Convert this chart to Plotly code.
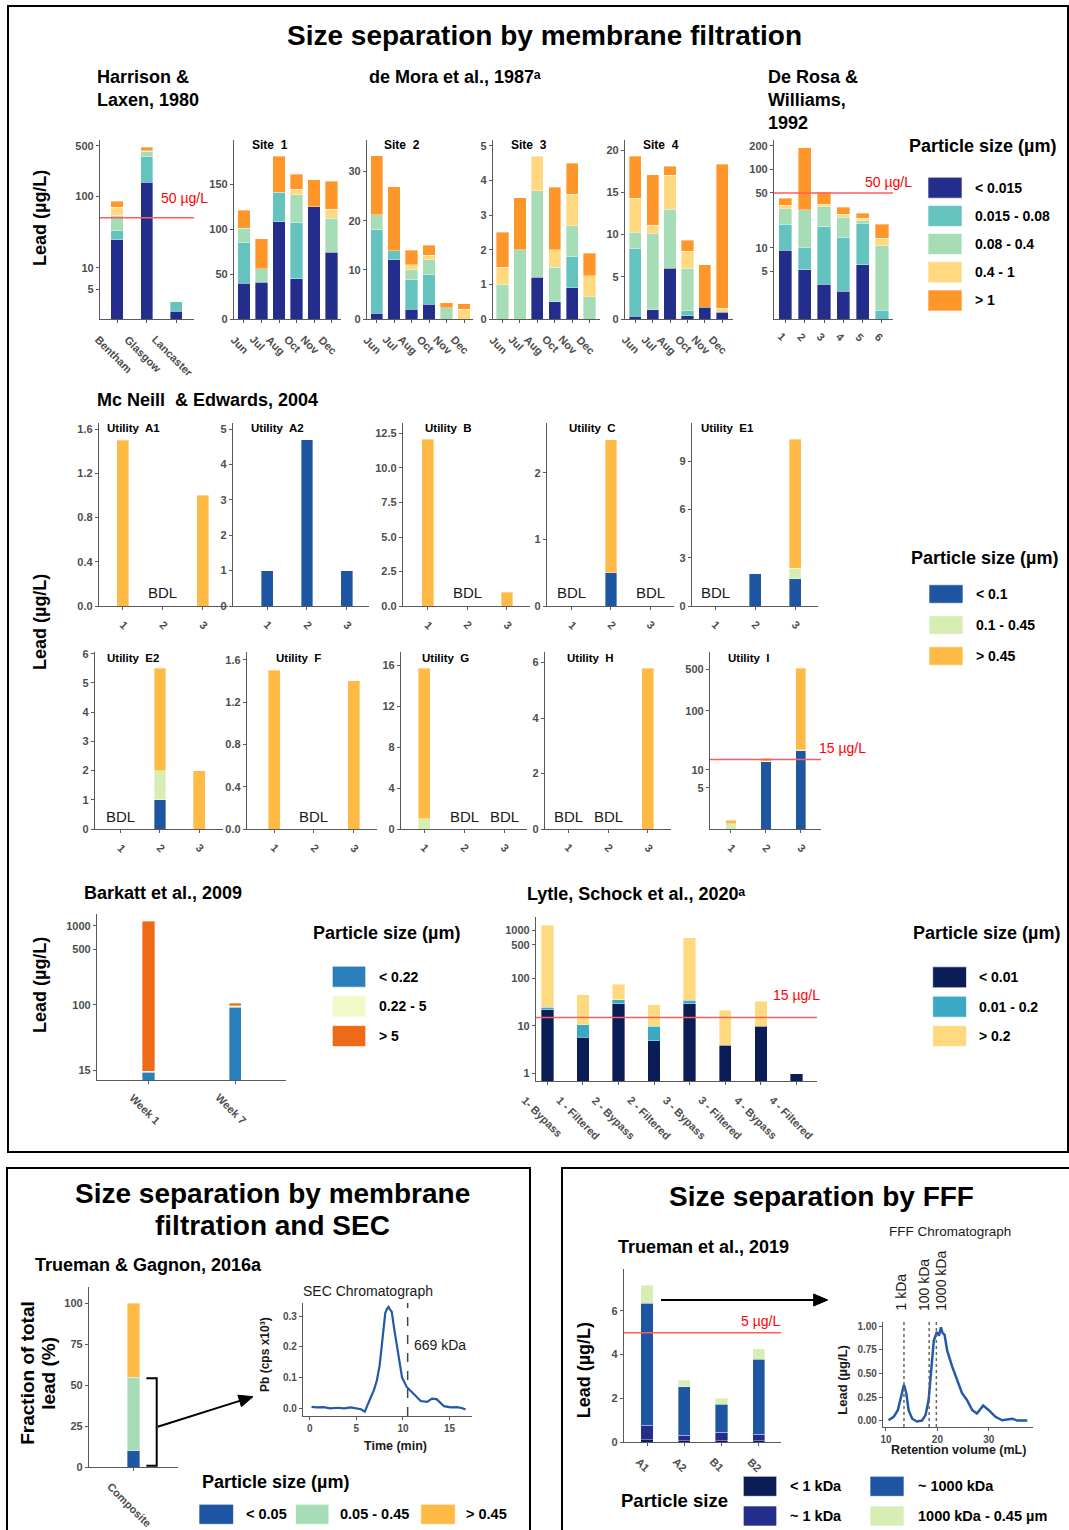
import numpy as np
import plotly.graph_objects as go

# ------------------------------------------------------------------
# Data
# ------------------------------------------------------------------
# Harrison & Laxen, 1980
harrison_sites = ["Bentham", "Glasgow", "Lancaster"]
harrison_lt_0015 = [24.5, 155.0, 2.5]
harrison_0015_008 = [8.2, 200.0, 0.9]
harrison_008_04 = [21.8, 65.0, 0.0]
harrison_04_1 = [15.9, 10.0, 0.0]
harrison_gt_1 = [14.6, 50.0, 0.0]

# de Mora et al., 1987 - four sites, monthly sampling
months = ["Jun", "Jul", "Aug", "Oct", "Nov", "Dec"]
site1_lt_0015 = [40, 41, 108, 45, 125, 74]
site1_0015_008 = [45, 0, 33, 62, 0, 0]
site1_008_04 = [16, 15, 0, 31, 0, 38]
site1_04_1 = [0, 0, 0, 6, 0, 10]
site1_gt_1 = [20, 33, 40, 17, 30, 31]

site2_lt_0015 = [1.2, 12, 2, 3, 0, 0]
site2_0015_008 = [17, 1.9, 6, 6, 0, 0]
site2_008_04 = [3, 0, 2, 3, 2.3, 0]
site2_04_1 = [0, 0, 1, 1, 0, 2]
site2_gt_1 = [12, 13, 3, 2, 1, 1.1]

site3_lt_0015 = [0, 0, 1.2, 0.5, 0.9, 0]
site3_0015_008 = [0, 0, 0, 0, 0.9, 0]
site3_008_04 = [1.0, 2.0, 2.5, 1.0, 0.9, 0.65]
site3_04_1 = [0.5, 0, 1.0, 0.5, 0.9, 0.6]
site3_gt_1 = [1.0, 1.5, 0, 1.8, 0.9, 0.65]

site4_lt_0015 = [0.3, 1.1, 6.0, 0.4, 1.4, 0.8]
site4_0015_008 = [8.0, 0, 0, 0.6, 0, 0]
site4_008_04 = [2.0, 9.0, 7.0, 5.0, 0, 0]
site4_04_1 = [4.0, 1.0, 4.0, 2.0, 0, 0.5]
site4_gt_1 = [5.0, 6.0, 1.1, 1.35, 5.0, 17.0]

# De Rosa & Williams, 1992
derosa_samples = ["1", "2", "3", "4", "5", "6"]
derosa_lt_0015 = [9.3, 5.2, 3.4, 2.8, 6.1, 0]
derosa_0015_008 = [10.7, 4.9, 15.1, 10.6, 14.4, 1.6]
derosa_008_04 = [11.2, 20.2, 14.9, 11.0, 1.6, 9.0]
derosa_04_1 = [3.6, 0, 2.6, 2.5, 1.5, 2.6]
derosa_gt_1 = [8.2, 158.7, 15.3, 6.1, 3.9, 6.7]

# Mc Neill & Edwards, 2004 (one list of 3 samples per utility)
mcneill_utilities = ["A1", "A2", "B", "C", "E1", "E2", "F", "G", "H", "I"]
mcneill_samples = ["1", "2", "3"]
mcneill_lt_01 = [[0, 0, 0], [1.0, 4.7, 1.0], [0, 0, 0], [0, 0.5, 0], [0, 2.0, 1.7],
                 [0, 1.0, 0], [0, 0, 0], [0, 0, 0], [0, 0, 0], [0, 13.8, 21.0]]
mcneill_01_045 = [[0, 0, 0], [0, 0, 0], [0, 0, 0], [0, 0, 0], [0, 0, 0.65],
                  [0, 1.0, 0], [0, 0, 0], [1.0, 0, 0], [0, 0, 0], [1.22, 0.3, 1.0]]
mcneill_gt_045 = [[1.5, 0, 1.0], [0, 0, 0], [12.1, 0, 1.0], [0, 2.0, 0], [0, 0, 8.0],
                  [0, 3.5, 2.0], [1.5, 0, 1.4], [14.7, 0, 0], [0, 0, 5.8], [0.2, 1.6, 508.0]]
mcneill_bdl = [["2"], [], ["2"], ["1", "3"], ["1"], ["1"], ["2"], ["2", "3"], ["1", "2"], []]

# Barkatt et al., 2009
barkatt_weeks = ["Week 1", "Week 7"]
barkatt_lt_022 = [14.0, 94.0]
barkatt_022_5 = [0.5, 3.0]
barkatt_gt_5 = [1118.0, 8.0]

# Lytle, Schock et al., 2020
lytle_samples = ["1- Bypass", "1 - Filtered", "2 - Bypass", "2 - Filtered",
                 "3 - Bypass", "3 - Filtered", "4 - Bypass", "4 - Filtered"]
lytle_lt_001 = [21.6, 5.8, 29.0, 4.9, 29.0, 3.9, 9.7, 1.0]
lytle_001_02 = [3.0, 4.8, 6.0, 4.8, 5.0, 0, 0, 0]
lytle_gt_02 = [1255.0, 34.0, 39.0, 18.0, 670.0, 17.4, 22.8, 0]

# Trueman & Gagnon, 2016a (percent of total lead)
composite_sample = ["Composite"]
composite_lt_005 = [10.0]
composite_005_045 = [45.0]
composite_gt_045 = [45.0]

# SEC chromatogram
sec_time = [0.2, 0.8, 1.5, 2.2, 3.0, 3.7, 4.4, 5.0, 5.5, 5.9, 6.2, 6.5, 6.9, 7.2, 7.5, 7.75,
            8.1, 8.3, 8.45, 8.6, 8.8, 9.05, 9.35, 9.6, 9.9, 10.4, 11.1, 11.9, 12.6, 13.1,
            13.6, 14.0, 14.4, 15.1, 15.8, 16.3, 16.7]
sec_pb = [0.004, 0.002, 0.003, -0.001, 0.001, -0.001, 0.002, 0.0, -0.004, -0.012, 0.01,
          0.036, 0.06, 0.09, 0.14, 0.21, 0.31, 0.325, 0.33, 0.322, 0.314, 0.26, 0.2, 0.15,
          0.10, 0.069, 0.047, 0.023, 0.02, 0.031, 0.029, 0.018, 0.006, 0.002, 0.003, 0.0, -0.005]
sec_marker_time = 10.5
sec_marker_label = "669 kDa"

# Trueman et al., 2019
trueman_sites = ["A1", "A2", "B1", "B2"]
trueman_lt_1kda = [0.1, 0.05, 0.05, 0.05]
trueman_1kda = [0.67, 0.27, 0.39, 0.30]
trueman_1000kda = [5.58, 2.2, 1.28, 3.44]
trueman_1000kda_045 = [0.82, 0.31, 0.28, 0.48]

# FFF fractogram
fff_volume = [10.5, 11.5, 12.3, 13.1, 13.5, 13.95, 14.4, 15.1, 16.0, 17.0, 17.7, 18.3, 18.8,
              19.3, 19.9, 20.3, 20.7, 21.0, 21.4, 21.9, 22.9, 23.8, 24.8, 25.8, 26.8, 27.7,
              28.9, 30.0, 31.3, 32.6, 33.8, 34.6, 35.5, 37.5]
fff_lead = [0.003, 0.04, 0.11, 0.29, 0.38, 0.29, 0.11, 0.02, -0.01, 0.0, 0.06, 0.22, 0.57,
            0.85, 0.94, 0.9, 0.99, 0.93, 0.91, 0.745, 0.57, 0.43, 0.29, 0.215, 0.11, 0.074,
            0.16, 0.11, 0.04, 0.003, 0.01, 0.02, 0.0, 0.0]
fff_standard_volumes = [13.5, 18.4, 19.8]
fff_standard_labels = ["1 kDa", "100 kDa", "1000 kDa"]

# Guideline / action levels (µg/L)
limit_50 = 50
limit_15 = 15
limit_5 = 5

# ------------------------------------------------------------------
# Styling and helpers
# ------------------------------------------------------------------
W, H = 1069, 1530
FONT = "Liberation Sans, Arial, sans-serif"
AXIS_COL = "#5a5a5a"
TICK_COL = "#4d4d4d"
RED = "#ff0000"
RED_LINE = "#ff5c5c"

C_NAVY, C_TEAL, C_LGREEN, C_YELLOW, C_ORANGE = "#232e8c", "#64c3be", "#a6ddb7", "#ffd880", "#fe9629"
MN_BLUE, MN_GREEN, MN_ORANGE = "#1f56a3", "#d6eeb4", "#feba45"
BK_BLUE, BK_PALE, BK_ORANGE = "#2a7fba", "#f2f9c8", "#ef6a16"
LY_NAVY, LY_TEAL, LY_YELLOW = "#0b1d57", "#3ba9c4", "#ffd980"
TR_COLORS = ["#0b1d57", "#232e8c", "#1f56a3", "#d6eeb4"]
TOP_COLORS = [C_NAVY, C_TEAL, C_LGREEN, C_YELLOW, C_ORANGE]
MN_COLORS = [MN_BLUE, MN_GREEN, MN_ORANGE]

fig = go.Figure()
layout = dict(width=W, height=H, margin=dict(l=0, r=0, t=0, b=0), barmode="stack",
              showlegend=False, template="none", plot_bgcolor="white",
              paper_bgcolor="white", font=dict(family=FONT))
shapes, annotations = [], []
axis_no = [0]
x_ranges = {}


def fx(px):
    return px / W


def fy(py):
    return 1 - py / H


def base_axis(tsize=11):
    return dict(showline=True, linecolor=AXIS_COL, linewidth=1.3, ticks="outside",
                ticklen=3, tickwidth=1, tickcolor=AXIS_COL, showgrid=False,
                zeroline=False, automargin=False, fixedrange=True,
                tickfont=dict(family=FONT, size=tsize, color=TICK_COL, weight="bold"))


def new_axes(box, xextra, yextra, tsize=11):
    axis_no[0] += 1
    s = "" if axis_no[0] == 1 else str(axis_no[0])
    l, t, r, b = box
    xa = base_axis(tsize)
    xa.update(domain=[fx(l), fx(r)], anchor="y" + s)
    xa.update(xextra)
    ya = base_axis(tsize)
    ya.update(domain=[fy(b), fy(t)], anchor="x" + s)
    ya.update(yextra)
    layout["xaxis" + s] = xa
    layout["yaxis" + s] = ya
    x_ranges["x" + s] = xextra.get("range")
    return "x" + s, "y" + s


def cat_x(cats, xr):
    return dict(type="category", categoryorder="array", categoryarray=cats,
                range=xr, showticklabels=False)


def lin(yr, tv, fmt="{:g}"):
    return dict(type="linear", range=yr, tickvals=tv, ticktext=[fmt.format(v) for v in tv])


def logax(yr, tv):
    return dict(type="log", range=yr, tickvals=tv, ticktext=[f"{v:g}" for v in tv])


def cat_pos(xa, cats, c):
    """Fraction of the x-axis domain at which category c sits."""
    r0, r1 = x_ranges[xa]
    return (cats.index(c) - r0) / (r1 - r0)


def stack(xa, ya, cats, series, colors, width):
    for vals, col in zip(series, colors):
        fig.add_trace(go.Bar(
            x=cats, y=[v if v > 0 else None for v in vals], width=width,
            marker=dict(color=col, line=dict(color="rgba(255,255,255,0.6)", width=0.6)),
            xaxis=xa, yaxis=ya, hoverinfo="skip"))


def text(x, y, s, size=11, color="black", bold=False, xanchor="left",
         yanchor="middle", angle=0):
    annotations.append(dict(
        x=fx(x), y=fy(y), xref="paper", yref="paper",
        text=f"<b>{s}</b>" if bold else s, showarrow=False, xanchor=xanchor,
        yanchor=yanchor, textangle=angle, borderpad=0,
        font=dict(family=FONT, size=size, color=color)))


def text_lines(x, y0, step, lines, **kw):
    for i, s in enumerate(lines):
        text(x, y0 + i * step, s, **kw)


def cat_labels(xa, cats, axis_y, size=11, gap=13, dx=-4):
    for c in cats:
        annotations.append(dict(
            xref=xa + " domain", x=cat_pos(xa, cats, c), yref="paper", y=fy(axis_y + gap),
            text=f"<b>{c}</b>", showarrow=False, textangle=45, xanchor="center",
            yanchor="top", xshift=dx, borderpad=0,
            font=dict(family=FONT, size=size, color=TICK_COL)))


def limit_line(xa, ya, value):
    shapes.append(dict(type="line", xref=xa + " domain", x0=0, x1=1, yref=ya,
                       y0=value, y1=value, line=dict(color=RED_LINE, width=1.5)))


def key(x0, x1, yc, h, col):
    shapes.append(dict(type="rect", xref="paper", yref="paper", x0=fx(x0), x1=fx(x1),
                       y0=fy(yc + h / 2), y1=fy(yc - h / 2), fillcolor=col,
                       line=dict(width=0.8, color="rgba(255,255,255,0.8)")))


def legend_col(title, title_xy, items, kx0, kx1, y0, step, kh, tx, size=14):
    text(title_xy[0], title_xy[1], title, size=18, bold=True)
    for i, (lab, col) in enumerate(items):
        yc = y0 + i * step
        key(kx0, kx1, yc, kh, col)
        text(tx, yc, lab, size=size, bold=True)


def box(x0, y0, x1, y1):
    shapes.append(dict(type="rect", xref="paper", yref="paper", x0=fx(x0), x1=fx(x1),
                       y0=fy(y1), y1=fy(y0), line=dict(color="black", width=2),
                       fillcolor="rgba(0,0,0,0)"))


def arrow(tail, head, head_len=14, head_half=6):
    """Straight black arrow drawn as a line plus a filled triangular head."""
    tx, ty = tail
    hx, hy = head
    d = np.hypot(hx - tx, hy - ty)
    ux, uy = (hx - tx) / d, (hy - ty) / d
    bx_, by_ = hx - head_len * ux, hy - head_len * uy
    px_, py_ = -uy, ux
    shapes.append(dict(type="line", xref="paper", yref="paper", x0=fx(tx), y0=fy(ty),
                       x1=fx(bx_), y1=fy(by_), line=dict(color="black", width=2)))
    pts = [(hx, hy), (bx_ + head_half * px_, by_ + head_half * py_),
           (bx_ - head_half * px_, by_ - head_half * py_)]
    path = "M " + " L ".join(f"{fx(a)},{fy(b)}" for a, b in pts) + " Z"
    shapes.append(dict(type="path", xref="paper", yref="paper", path=path,
                       fillcolor="black", line=dict(color="black", width=1)))


# ------------------------------------------------------------------
# Panel frames
# ------------------------------------------------------------------
box(8, 6, 1068, 1152)
box(7, 1168, 530, 1532)
box(562, 1168, 1071, 1532)

# ------------------------------------------------------------------
# Top section: membrane filtration
# ------------------------------------------------------------------
text(544, 35, "Size separation by membrane filtration", size=28, bold=True, xanchor="center")
text_lines(96, 77, 23, ["Harrison &", "Laxen, 1980"], size=18, bold=True)
text(368, 77, "de Mora et al., 1987ᵃ", size=18, bold=True)
text_lines(767, 77, 23, ["De Rosa &", "Williams,", "1992"], size=18, bold=True)
text(40, 218, "Lead (µg/L)", size=18, bold=True, xanchor="center", angle=-90)

# Harrison & Laxen
xa, ya = new_axes((100, 140, 194, 319), cat_x(harrison_sites, [-0.58, 2.6]),
                  logax([0.29, 2.78], [5, 10, 100, 500]))
stack(xa, ya, harrison_sites, [harrison_lt_0015, harrison_0015_008, harrison_008_04,
                               harrison_04_1, harrison_gt_1], TOP_COLORS, 0.42)
cat_labels(xa, harrison_sites, 319)
limit_line(xa, ya, limit_50)
text(160, 198.3, f"{limit_50} µg/L", size=14, color=RED)

# de Mora sites
site_series = [
    [site1_lt_0015, site1_0015_008, site1_008_04, site1_04_1, site1_gt_1],
    [site2_lt_0015, site2_0015_008, site2_008_04, site2_04_1, site2_gt_1],
    [site3_lt_0015, site3_0015_008, site3_008_04, site3_04_1, site3_gt_1],
    [site4_lt_0015, site4_0015_008, site4_008_04, site4_04_1, site4_gt_1],
]
site_geom = [
    ((234, 140, 341, 319), [-0.57, 5.54], [0, 199], [0, 50, 100, 150], 251),
    ((367, 140, 473, 319), [-0.55, 5.51], [0, 36.4], [0, 10, 20, 30], 383),
    ((493, 140, 600, 319), [-0.55, 5.6], [0, 5.17], [0, 1, 2, 3, 4, 5], 510),
    ((625, 140, 733, 319), [-0.59, 5.62], [0, 21.2], [0, 5, 10, 15, 20], 642),
]
for i, ((bx, xr, yr, tv, lx), series) in enumerate(zip(site_geom, site_series)):
    xa, ya = new_axes(bx, cat_x(months, xr), lin(yr, tv))
    stack(xa, ya, months, series, TOP_COLORS, 0.7)
    cat_labels(xa, months, 319)
    text(lx, 145, f"Site  {i + 1}", size=12, bold=True)

# De Rosa & Williams
xa, ya = new_axes((774, 140, 893, 319), cat_x(derosa_samples, [-0.59, 5.57]),
                  logax([0.09, 2.374], [5, 10, 50, 100, 200]))
stack(xa, ya, derosa_samples, [derosa_lt_0015, derosa_0015_008, derosa_008_04,
                               derosa_04_1, derosa_gt_1], TOP_COLORS, 0.68)
cat_labels(xa, derosa_samples, 319, gap=10, dx=-3)
limit_line(xa, ya, limit_50)
text(863.5, 182, f"{limit_50} µg/L", size=14, color=RED)

legend_col("Particle size (µm)", (908, 146),
           [("< 0.015", C_NAVY), ("0.015 - 0.08", C_TEAL), ("0.08 - 0.4", C_LGREEN),
            ("0.4 - 1", C_YELLOW), ("> 1", C_ORANGE)],
           928, 962, 187.7, 28.2, 21, 973.5)

# Mc Neill & Edwards
text(96, 400, "Mc Neill  & Edwards, 2004", size=18, bold=True)
text(40, 622, "Lead (µg/L)", size=18, bold=True, xanchor="center", angle=-90)
mcneill_geom = [
    ((99, 423, 228, 606), [-0.6, 2.63], [0, 1.655], [0, 0.4, 0.8, 1.2, 1.6], "{:.1f}", False, 106, 427.7),
    ((233, 423, 369, 606), [-0.86, 2.56], [0, 5.17], [0, 1, 2, 3, 4, 5], "{:g}", False, 250, 427.7),
    ((403, 423, 530, 606), [-0.62, 2.58], [0, 13.26], [0, 2.5, 5, 7.5, 10, 12.5], "{:.1f}", False, 424, 427.7),
    ((547, 423, 674, 606), [-0.625, 2.6], [0, 2.75], [0, 1, 2], "{:g}", False, 568, 427.7),
    ((692, 423, 818, 606), [-0.585, 2.57], [0, 11.37], [0, 3, 6, 9], "{:g}", False, 700, 427.7),
    ((95, 652, 223, 829), [-0.65, 2.6], [0, 6.06], [0, 1, 2, 3, 4, 5, 6], "{:g}", False, 106, 658.3),
    ((247, 652, 377, 829), [-0.69, 2.59], [0, 1.673], [0, 0.4, 0.8, 1.2, 1.6], "{:.1f}", False, 275, 658.3),
    ((401, 652, 527, 829), [-0.585, 2.57], [0, 17.3], [0, 4, 8, 12, 16], "{:g}", False, 421, 658.3),
    ((545, 652, 671, 829), [-0.59, 2.58], [0, 6.38], [0, 2, 4, 6], "{:g}", False, 565.5, 658.3),
    ((710, 652, 821, 829), [-0.6, 2.58], [0, 2.995], [5, 10, 100, 500], None, True, 726.6, 658.3),
]
for k, util in enumerate(mcneill_utilities):
    bx, xr, yr, tv, fmt, is_log, lx, ly = mcneill_geom[k]
    ycfg = logax(yr, tv) if is_log else lin(yr, tv, fmt)
    xa, ya = new_axes(bx, cat_x(mcneill_samples, xr), ycfg)
    stack(xa, ya, mcneill_samples, [mcneill_lt_01[k], mcneill_01_045[k], mcneill_gt_045[k]],
          MN_COLORS, 0.3)
    cat_labels(xa, mcneill_samples, bx[3], gap=11, dx=1)
    text(lx, ly, f"Utility  {util}", size=11.5, bold=True)
    for s in mcneill_bdl[k]:
        annotations.append(dict(xref=xa + " domain", x=cat_pos(xa, mcneill_samples, s),
                                yref="paper", y=fy(bx[3] - 13), text="BDL",
                                showarrow=False, xanchor="center", yanchor="middle",
                                font=dict(family=FONT, size=15, color="#1a1a1a")))
    if is_log:
        limit_line(xa, ya, limit_15)
        text(817.6, 747.7, f"{limit_15} µg/L", size=14, color=RED)

legend_col("Particle size (µm)", (910, 557.7),
           [("< 0.1", MN_BLUE), ("0.1 - 0.45", MN_GREEN), ("> 0.45", MN_ORANGE)],
           929, 963, 594, 31, 18.5, 974.5)

# Barkatt et al.
text(83.3, 893.3, "Barkatt et al., 2009", size=18, bold=True)
text(40, 985, "Lead (µg/L)", size=18, bold=True, xanchor="center", angle=-90)
xa, ya = new_axes((97, 914, 286, 1080), cat_x(barkatt_weeks, [-0.595, 1.588]),
                  logax([1.051, 3.148], [15, 100, 500, 1000]))
stack(xa, ya, barkatt_weeks, [barkatt_lt_022, barkatt_022_5, barkatt_gt_5],
      [BK_BLUE, BK_PALE, BK_ORANGE], 0.14)
cat_labels(xa, barkatt_weeks, 1080, gap=10)
legend_col("Particle size (µm)", (311.7, 933.3),
           [("< 0.22", BK_BLUE), ("0.22 - 5", BK_PALE), ("> 5", BK_ORANGE)],
           332.3, 365.7, 976.7, 29.7, 21, 377.7)

# Lytle, Schock et al.
text(525.8, 894.3, "Lytle, Schock et al., 2020ᵃ", size=18, bold=True)
xa, ya = new_axes((536, 917, 817, 1081), cat_x(lytle_samples, [-0.32, 7.58]),
                  logax([-0.155, 3.278], [1, 10, 100, 500, 1000]))
stack(xa, ya, lytle_samples, [lytle_lt_001, lytle_001_02, lytle_gt_02],
      [LY_NAVY, LY_TEAL, LY_YELLOW], 0.35)
cat_labels(xa, lytle_samples, 1081, gap=12, dx=-5)
limit_line(xa, ya, limit_15)
text(772.3, 995, f"{limit_15} µg/L", size=14, color=RED)
legend_col("Particle size (µm)", (912, 933.3),
           [("< 0.01", LY_NAVY), ("0.01 - 0.2", LY_TEAL), ("> 0.2", LY_YELLOW)],
           932.7, 966.5, 977.3, 29.4, 21, 977.7)

# ------------------------------------------------------------------
# Bottom left: membrane filtration and SEC
# ------------------------------------------------------------------
text(272, 1193.3, "Size separation by membrane", size=28, bold=True, xanchor="center")
text(272, 1225, "filtration and SEC", size=28, bold=True, xanchor="center")
text(34.4, 1265, "Trueman & Gagnon, 2016a", size=18, bold=True)
text(27.5, 1373.3, "Fraction of total", size=19, bold=True, xanchor="center", angle=-90)
text(48.5, 1373.3, "lead (%)", size=19, bold=True, xanchor="center", angle=-90)

xa, ya = new_axes((89, 1287, 178, 1467), cat_x(composite_sample, [-1, 1]),
                  lin([0, 110], [0, 25, 50, 75, 100]))
stack(xa, ya, composite_sample, [composite_lt_005, composite_005_045, composite_gt_045],
      [MN_BLUE, C_LGREEN, MN_ORANGE], 0.283)
cat_labels(xa, composite_sample, 1467, gap=12, dx=-4)

# bracket around the < 0.45 µm fraction and arrow to the chromatogram
bx0, bx1, by0, by1 = fx(146.4), fx(156.7), fy(1378.3), fy(1465.7)
shapes.append(dict(type="path", xref="paper", yref="paper",
                   path=f"M {bx0},{by0} L {bx1},{by0} L {bx1},{by1} L {bx0},{by1}",
                   line=dict(color="black", width=2)))
arrow((157.7, 1426.7), (253, 1396.7))

text(301.7, 1290.7, "SEC Chromatograph", size=14, color="#1a1a1a")
xa, ya = new_axes((303, 1303, 472, 1416),
                  dict(type="linear", range=[-0.72, 17.4], tickvals=[0, 5, 10, 15],
                       ticktext=["0", "5", "10", "15"]),
                  lin([-0.026, 0.343], [0, 0.1, 0.2, 0.3], "{:.1f}"), tsize=10)
fig.add_trace(go.Scatter(x=sec_time, y=sec_pb, mode="lines", xaxis=xa, yaxis=ya,
                         line=dict(color="#2458a8", width=2.2), hoverinfo="skip"))
shapes.append(dict(type="line", xref=xa, x0=sec_marker_time, x1=sec_marker_time,
                   yref=ya + " domain", y0=0, y1=1,
                   line=dict(color="#444444", width=1.5, dash="dash")))
text(413.3, 1345, sec_marker_label, size=14, color="#1a1a1a")
text(265, 1355, "Pb (cps x10³)", size=12, bold=True, xanchor="center",
     angle=-90, color="#1a1a1a")
text(395, 1446, "Time (min)", size=12.5, bold=True, xanchor="center", color="#1a1a1a")

text(201.4, 1481.7, "Particle size (µm)", size=18, bold=True)
for (kx0, kx1, tx, lab, col) in [(199, 233.5, 244.5, "< 0.05", MN_BLUE),
                                 (295.5, 328.9, 339.2, "0.05 - 0.45", C_LGREEN),
                                 (420.8, 455.2, 464.9, "> 0.45", MN_ORANGE)]:
    key(kx0, kx1, 1514.3, 20, col)
    text(tx, 1514.3, lab, size=14.5, bold=True)

# ------------------------------------------------------------------
# Bottom right: FFF
# ------------------------------------------------------------------
text(821, 1196.7, "Size separation by FFF", size=28, bold=True, xanchor="center")
text(616.7, 1247.3, "Trueman et al., 2019", size=18, bold=True)
text(584.3, 1370, "Lead (µg/L)", size=18, bold=True, xanchor="center", angle=-90)

xa, ya = new_axes((624, 1269, 781, 1442), cat_x(trueman_sites, [-0.62, 3.6]),
                  lin([0, 7.91], [0, 2, 4, 6]))
stack(xa, ya, trueman_sites, [trueman_lt_1kda, trueman_1kda, trueman_1000kda,
                              trueman_1000kda_045], TR_COLORS, 0.33)
cat_labels(xa, trueman_sites, 1442, gap=12, dx=-4)
limit_line(xa, ya, limit_5)
text(781, 1321, f"{limit_5} µg/L", size=14, color=RED, xanchor="right")
arrow((661, 1300), (827.7, 1300))

text(888.3, 1231.7, "FFF Chromatograph", size=13.5, color="#1a1a1a")
xa, ya = new_axes((883, 1322, 1033, 1427),
                  dict(type="linear", range=[9.42, 38.6], tickvals=[10, 20, 30],
                       ticktext=["10", "20", "30"]),
                  lin([-0.068, 1.046], [0, 0.25, 0.5, 0.75, 1.0], "{:.2f}"), tsize=10)
fig.add_trace(go.Scatter(x=fff_volume, y=fff_lead, mode="lines", xaxis=xa, yaxis=ya,
                         line=dict(color="#2458a8", width=2.5), hoverinfo="skip"))
for v in fff_standard_volumes:
    shapes.append(dict(type="line", xref=xa, x0=v, x1=v, yref=ya + " domain", y0=0, y1=1,
                       line=dict(color="#666666", width=1.5, dash="dot")))
for lx, lab in zip([900, 924, 940.7], fff_standard_labels):
    text(lx, 1312, lab, size=14, color="#1a1a1a", xanchor="center", yanchor="bottom",
         angle=-90)
text(841.7, 1380, "Lead (µg/L)", size=13, bold=True, xanchor="center", angle=-90,
     color="#1a1a1a")
text(958.8, 1450, "Retention volume (mL)", size=12.5, bold=True, xanchor="center",
     color="#1a1a1a")

text(620, 1500, "Particle size", size=18.5, bold=True)
for (kx0, kx1, tx, yc, lab, col) in [
        (743.3, 776.7, 789.3, 1486.3, "&lt; 1 kDa", TR_COLORS[0]),
        (743.3, 776.7, 789.3, 1516, "~ 1 kDa", TR_COLORS[1]),
        (870, 904, 916.7, 1486.3, "~ 1000 kDa", TR_COLORS[2]),
        (870, 904, 916.7, 1516, "1000 kDa - 0.45 µm", TR_COLORS[3])]:
    key(kx0, kx1, yc, 20, col)
    text(tx, yc, lab, size=14.5, bold=True)

layout["shapes"] = shapes
layout["annotations"] = annotations
fig.update_layout(**layout)
fig.write_html("out.html")
